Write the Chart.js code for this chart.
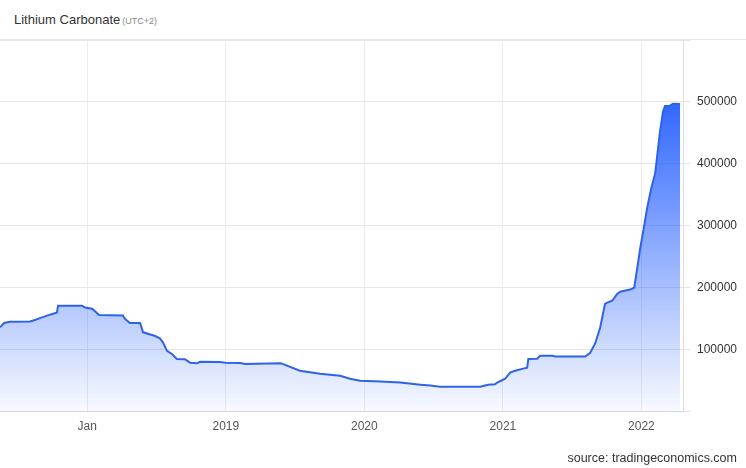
<!DOCTYPE html>
<html>
<head>
<meta charset="utf-8">
<script src="https://cdn.jsdelivr.net/npm/chart.js@4.4.0/dist/chart.umd.min.js"></script>
<style>
  body { margin: 0; background: #fff; font-family: Arial, "Liberation Sans", sans-serif; }
  #wrap { position: relative; width: 746px; height: 468px; overflow: hidden; }
  #head { position: absolute; left: 0; top: 0; width: 746px; height: 40px; border-bottom: 1px solid #e6e6e6; box-sizing: border-box; }
  #title { position: absolute; left: 14px; top: 12px; font-size: 13px; color: #333; white-space: nowrap; }
  #title span { font-size: 9px; color: #888; margin-left: 2px; }
  #source { position: absolute; right: 9px; top: 451px; font-size: 12.5px; color: #333; }
  canvas { position: absolute; left: 0; top: 0; }
</style>
</head>
<body>
<div id="wrap">
  <div id="head"><div id="title">Lithium Carbonate<span>(UTC+2)</span></div></div>
  <canvas id="chart" width="746" height="468"></canvas>
  <div id="source">source: tradingeconomics.com</div>
</div>
<script>
// price data (CNY/T)
var dates = [
  "2017-05-16", "2017-05-27", "2017-06-11", "2017-08-03", "2017-08-16", "2017-08-29",
  "2017-09-17", "2017-10-03", "2017-10-13", "2017-10-16", "2017-12-18", "2017-12-26",
  "2018-01-14", "2018-02-01", "2018-04-05", "2018-04-10", "2018-04-23", "2018-05-20",
  "2018-05-28", "2018-06-29", "2018-07-12", "2018-07-20", "2018-07-30", "2018-08-12",
  "2018-08-25", "2018-09-15", "2018-09-29", "2018-10-17", "2018-10-25", "2018-12-17",
  "2018-12-30", "2019-02-08", "2019-02-21", "2019-05-24", "2019-05-29", "2019-07-15",
  "2019-09-06", "2019-10-29", "2019-11-24", "2019-12-21", "2020-02-12", "2020-04-05",
  "2020-05-28", "2020-06-23", "2020-07-19", "2020-11-02", "2020-11-23", "2020-12-11",
  "2020-12-17", "2021-01-07", "2021-01-20", "2021-02-02", "2021-02-21", "2021-03-06",
  "2021-03-09", "2021-04-01", "2021-04-09", "2021-05-11", "2021-05-19", "2021-08-06",
  "2021-08-19", "2021-09-01", "2021-09-14", "2021-09-27", "2021-10-03", "2021-10-16",
  "2021-10-29", "2021-11-06", "2021-12-02", "2021-12-13", "2021-12-21", "2021-12-29",
  "2022-01-06", "2022-01-16", "2022-01-27", "2022-02-06", "2022-02-11", "2022-02-19",
  "2022-02-27", "2022-03-04", "2022-03-17", "2022-03-25", "2022-04-13"
];
var prices = [
  136000, 143000, 145000, 145500, 148000, 151000,
  155000, 158000, 160000, 171000, 171000, 168000,
  166000, 156000, 155000, 150000, 143000, 143000,
  128000, 122000, 118000, 111000, 98000, 93000,
  85000, 84500, 79000, 78000, 80500, 80000,
  79000, 78500, 77000, 78000, 77500, 66000,
  61000, 58000, 53000, 50000, 48500, 47000,
  43500, 42000, 40300, 40300, 43500, 44000,
  47000, 53000, 63000, 66000, 69000, 71000,
  85000, 85500, 90000, 90000, 89000, 89000,
  95000, 110000, 135000, 174000, 176000, 179000,
  190000, 193500, 197000, 200000, 232000, 264500,
  292000, 329000, 361000, 384000, 410000, 453000,
  485000, 493500, 494000, 497000, 496500
];
var xRange = ["2017-05-16", "2022-04-23"];
var xTickYears = [2018, 2019, 2020, 2021, 2022];
var xTickLabels = ["Jan", "2019", "2020", "2021", "2022"];
var yTicks = [100000, 200000, 300000, 400000, 500000];

function toYear(s) {
  var d = Date.parse(s + "T00:00:00Z");
  var y = new Date(d).getUTCFullYear();
  var a = Date.UTC(y, 0, 1), b = Date.UTC(y + 1, 0, 1);
  return y + (d - a) / (b - a);
}

var points = dates.map(function (d, i) { return { x: toYear(d), y: prices[i] }; });

var ctx = document.getElementById("chart").getContext("2d");
var chart = new Chart(ctx, {
  type: "line",
  data: {
    datasets: [{
      data: points,
      borderColor: "#2e63e9",
      borderWidth: 2,
      pointRadius: 0,
      tension: 0,
      fill: "origin",
      backgroundColor: function (c) {
        var area = c.chart.chartArea;
        if (!area) return "rgba(41,98,255,0.3)";
        var top = c.chart.scales.y.getPixelForValue(500000);
        var g = c.chart.ctx.createLinearGradient(0, top, 0, area.bottom);
        g.addColorStop(0, "rgba(41,98,255,0.97)");
        g.addColorStop(1, "rgba(41,98,255,0.03)");
        return g;
      }
    }]
  },
  options: {
    responsive: false,
    animation: false,
    layout: { padding: { left: 0, top: 40, right: 2, bottom: 26 } },
    plugins: { legend: { display: false }, tooltip: { enabled: false } },
    scales: {
      x: {
        type: "linear",
        min: toYear(xRange[0]),
        max: toYear(xRange[1]),
        afterBuildTicks: function (s) {
          s.ticks = xTickYears.map(function (v) { return { value: v }; });
        },
        grid: { color: "#ececec", drawTicks: false },
        border: { color: "#d6d6d6" },
        ticks: {
          padding: 8,
          color: "#555",
          font: { family: "Arial, 'Liberation Sans'", size: 12 },
          maxRotation: 0,
          callback: function (v) {
            var i = xTickYears.indexOf(v);
            return i >= 0 ? xTickLabels[i] : "";
          }
        }
      },
      y: {
        position: "right",
        min: 0,
        max: 600000,
        afterBuildTicks: function (s) {
          s.ticks = [0].concat(yTicks, [600000]).map(function (v) { return { value: v }; });
        },
        grid: { color: "#e6e6e6", tickLength: 6 },
        border: { color: "#dedede" },
        ticks: {
          padding: 7,
          color: "#333",
          font: { family: "Arial, 'Liberation Sans'", size: 12 },
          callback: function (v) { return yTicks.indexOf(v) >= 0 ? String(v) : ""; }
        }
      }
    }
  }
});
</script>
</body>
</html>
